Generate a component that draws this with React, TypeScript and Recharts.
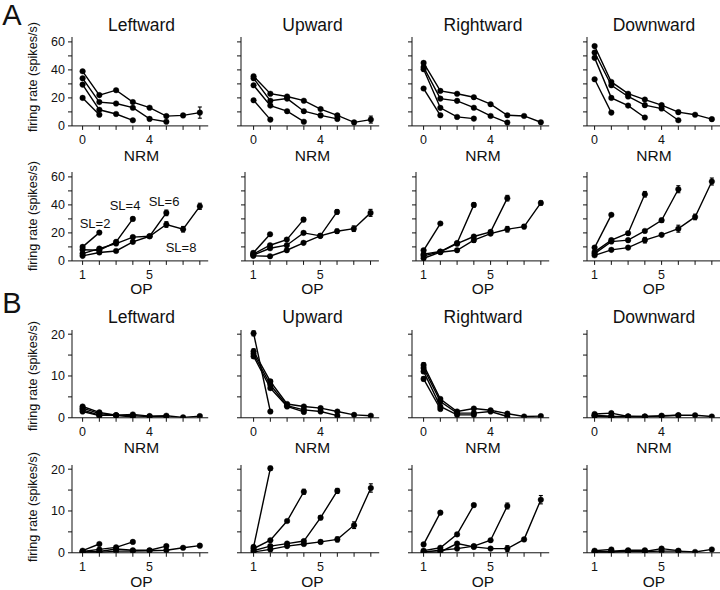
import React from 'react';
import { LineChart, Line, XAxis, YAxis, ErrorBar } from 'recharts';

const FONT = '"Liberation Sans", Arial, Helvetica, sans-serif';

// ---------- labels & ticks ----------
const DIRECTIONS = ['Leftward', 'Upward', 'Rightward', 'Downward'];
const SL_LABELS = ['SL=2', 'SL=4', 'SL=6', 'SL=8'];
const NRM_TICKS = [0, 1, 2, 3, 4, 5, 6, 7];
const NRM_TICK_LABELS = [0, 4];
const OP_TICKS = [1, 2, 3, 4, 5, 6, 7, 8];
const OP_TICK_LABELS = [1, 5];
const RATE_TICKS_A = [0, 10, 20, 30, 40, 50, 60];
const RATE_LABELS_A = [0, 20, 40, 60];
const RATE_TICKS_B = [0, 5, 10, 15, 20];
const RATE_LABELS_B = [0, 10, 20];
const Y_TITLE = 'firing rate (spikes/s)';

// ---------- data: each panel = [SL=2, SL=4, SL=6, SL=8] ----------
// A, firing rate vs NRM
const aNrmLeftward = [[20, 8], [29.5, 11.5, 8.5, 4], [34, 17, 16, 13, 5, 3], [39, 22, 25.5, 17, 13, 7, 7.5, 9.5]];
const aNrmUpward = [[18.3, 4.5], [29, 14.5, 10.5, 3], [34, 18, 19.5, 10.5, 7.5, 5], [35.5, 23, 21, 18, 12, 7.5, 2.5, 4.5]];
const aNrmRightward = [[26.7, 7.6], [40.5, 12.9, 6.4, 5.2], [42, 19.5, 17.9, 13, 7.1, 2.4], [45, 25, 23, 20.5, 15.5, 7.6, 7.1, 2.6]];
const aNrmDownward = [[33.3, 9.5], [48.6, 20, 14.5, 6], [52.4, 29, 21, 14.8, 12.4, 4], [57, 31.4, 23, 18.8, 14.8, 9.8, 8, 4.8]];
const aNrmLeftwardErr = [[0, 0], [0, 0, 0, 0], [0, 0, 0, 0, 0, 0], [0, 0, 0, 0, 0, 0, 0, 4]];
const aNrmUpwardErr = [[0, 0], [0, 0, 0, 0], [0, 0, 0, 0, 0, 0], [0, 0, 0, 0, 0, 0, 0, 2.5]];

// A, firing rate vs OP
const aOpLeftward = [[10, 20.2], [8, 7.6, 13.6, 30], [5.2, 8.8, 12.4, 17, 17.6, 34.3], [3.6, 6, 7.1, 13.6, 17.6, 26, 22.6, 39]];
const aOpUpward = [[5.7, 19], [4.8, 11.2, 15.2, 29.5], [4.2, 9, 11.2, 20, 17.9, 35], [3.6, 3.3, 7.6, 12.9, 17.9, 21.2, 23, 34.3]];
const aOpRightward = [[7.6, 26.7], [4.8, 6.7, 12.8, 40], [3.6, 6.5, 12.3, 17.4, 20.7, 44.8], [1.9, 6.2, 7.6, 14.8, 19.5, 22.6, 24.5, 41.4]];
const aOpDownward = [[9.5, 32.9], [6.4, 14.8, 19.8, 47.6], [5.2, 13.8, 14.8, 21.4, 29, 51.2], [4, 7.9, 9.5, 14.8, 18.6, 23, 31.4, 56.7]];
const aOpLeftwardErr = [[0, 0], [0, 0, 0, 1.2], [0, 0, 0, 0, 0, 2], [0, 0, 0, 0, 0, 2, 2, 2.2]];
const aOpUpwardErr = [[0, 0], [0, 0, 0, 1.5], [0, 0, 0, 0, 0, 1.5], [0, 0, 0, 0, 0, 1.5, 2, 2.5]];
const aOpRightwardErr = [[0, 0], [0, 0, 0, 1.5], [0, 0, 0, 0, 0, 2], [0, 0, 0, 1.5, 1, 2, 1.5, 1.5]];
const aOpDownwardErr = [[0, 0], [0, 0, 0, 2], [0, 0, 0, 0, 1.5, 2.5], [0, 0, 0, 2, 0, 2.5, 2, 2.5]];

// B, firing rate vs NRM
const bNrmLeftward = [[1.5, 0.5], [1.9, 0.6, 0.6, 0.2], [2.3, 1.0, 0.6, 0.5, 0.3, 0.3], [2.7, 1.3, 0.6, 0.8, 0.4, 0.5, 0.1, 0.4]];
const bNrmUpward = [[20.2, 1.5], [14.7, 7.1, 2.7, 1.4], [15.3, 7.9, 2.9, 1.9, 1.5, 0.5], [15.9, 8.7, 3.3, 2.7, 2.3, 1.5, 0.7, 0.5]];
const bNrmRightward = [[9.3, 2.1], [11.1, 2.7, 0.7, 0.7], [11.9, 3.9, 1.1, 1.1, 1.5, 0.3], [12.6, 4.5, 1.5, 2.2, 1.8, 1.0, 0.3, 0.4]];
const bNrmDownward = [[0.5, 0.3], [0.4, 0.2, 0.3, 0.2], [0.6, 0.3, 0.3, 0.3, 0.4, 0.6], [0.9, 1.1, 0.3, 0.3, 0.5, 0.6, 0.6, 0.3]];
const bNrmUpwardErr = [[0.6, 0.3], [0.5, 0.4, 0, 0], [0.6, 0.4, 0, 0, 0, 0], [0.6, 0.4, 0, 0, 0, 0, 0, 0]];
const bNrmRightwardErr = [[0.5, 0], [0.5, 0, 0, 0], [0.5, 0, 0, 0, 0, 0], [0.6, 0.4, 0, 0, 0, 0, 0, 0]];

// B, firing rate vs OP
const bOpLeftward = [[0.5, 2.1], [0.3, 0.8, 1.3, 2.6], [0.2, 0.3, 0.9, 0.6, 0.6, 1.6], [0.1, 0.1, 0.4, 0.4, 0.5, 0.6, 1.2, 1.7]];
const bOpUpward = [[1.4, 20.2], [1.0, 3.0, 7.6, 14.6], [0.5, 1.6, 2.2, 2.8, 8.4, 14.8], [0.2, 0.8, 1.6, 2.1, 2.6, 3.2, 6.6, 15.5]];
const bOpRightward = [[2.0, 9.6], [0.5, 1.2, 4.4, 11.4], [0.2, 0.6, 1.0, 1.6, 3.0, 11.2], [0.1, 0.2, 2.2, 1.4, 1.0, 1.0, 3.2, 12.7]];
const bOpDownward = [[0.5, 0.8], [0.3, 0.4, 0.6, 0.6], [0.2, 0.2, 0.4, 0.3, 1.0, 0.5], [0.1, 0.2, 0.3, 0.3, 0.4, 0.4, 0.2, 0.8]];
const bOpUpwardErr = [[0, 0.5], [0, 0, 0.3, 0.6], [0, 0, 0, 0, 0.5, 0.6], [0, 0, 0, 0, 0.4, 0.6, 0.8, 1.0]];
const bOpRightwardErr = [[0, 0], [0, 0, 0, 0.4], [0, 0, 0, 0, 0, 0.7], [0, 0, 0, 0, 0, 0.7, 0, 1.0]];

// ---------- layout ----------
const UNIT = 16.75; // px per x unit
const X0 = [82.3, 253.3, 423.3, 594.3]; // pixel x of first category per column
const COL_CENTER = [141.5, 312.5, 483, 654];
const LEFT_PAD = 40;
const TOP_PAD = 4;
const X_AXIS_H = 26;
const RIGHT_PAD = 6;

const ROWS = [
  { kind: 'NRM', zeroY: 125.7, pxPerUnit: 1.4, yMax: 63.5, yTicks: RATE_TICKS_A, yLabels: RATE_LABELS_A, axisX: [71.7, 240.7, 411.7, 586.7],
    panels: [[aNrmLeftward, aNrmLeftwardErr], [aNrmUpward, aNrmUpwardErr], [aNrmRightward, null], [aNrmDownward, null]] },
  { kind: 'OP', zeroY: 260.7, pxPerUnit: 1.4, yMax: 63.5, yTicks: RATE_TICKS_A, yLabels: RATE_LABELS_A, axisX: [71.7, 245, 415.7, 586.7],
    panels: [[aOpLeftward, aOpLeftwardErr], [aOpUpward, aOpUpwardErr], [aOpRightward, aOpRightwardErr], [aOpDownward, aOpDownwardErr]] },
  { kind: 'NRM', zeroY: 418, pxPerUnit: 4.18, yMax: 21, yTicks: RATE_TICKS_B, yLabels: RATE_LABELS_B, axisX: [71.7, 240.7, 411.7, 586.7],
    panels: [[bNrmLeftward, null], [bNrmUpward, bNrmUpwardErr], [bNrmRightward, bNrmRightwardErr], [bNrmDownward, null]] },
  { kind: 'OP', zeroY: 552.7, pxPerUnit: 4.18, yMax: 21, yTicks: RATE_TICKS_B, yLabels: RATE_LABELS_B, axisX: [71.7, 240.7, 411.7, 586.7],
    panels: [[bOpLeftward, null], [bOpUpward, bOpUpwardErr], [bOpRightward, bOpRightwardErr], [bOpDownward, null]] },
];

const TITLE_Y = [26, null, 318, null];
const XLABEL_Y = [156, 289, 448, 582];
const YLABEL_Y = [77, 216, 376, 507];

const tickStyle = { fill: '#111', fontSize: 12.5, fontFamily: FONT };

function Txt({ x, y, size, children, rotate }: any) {
  return (
    <div
      style={{
        position: 'absolute',
        left: x,
        top: y,
        transform: `translate(-50%, -50%)${rotate ? ' rotate(-90deg)' : ''}`,
        fontSize: size,
        fontFamily: FONT,
        whiteSpace: 'nowrap',
        lineHeight: 1,
        color: '#111',
      }}
    >
      {children}
    </div>
  );
}

function Panel({ row, col }: { row: number; col: number }) {
  const r = ROWS[row];
  const [values, errors] = r.panels[col] as any;
  const axisX = r.axisX[col];
  const firstX = r.kind === 'NRM' ? 0 : 1;
  const xTicks = r.kind === 'NRM' ? NRM_TICKS : OP_TICKS;
  const xLabels = r.kind === 'NRM' ? NRM_TICK_LABELS : OP_TICK_LABELS;
  const lastX = xTicks[xTicks.length - 1];
  const plotW = X0[col] + (lastX - firstX + 0.5) * UNIT - axisX;
  const xMin = firstX - (X0[col] - axisX) / UNIT;
  const xMax = lastX + 0.5;
  const plotH = r.yMax * r.pxPerUnit;
  const width = LEFT_PAD + plotW + RIGHT_PAD;
  const height = TOP_PAD + plotH + X_AXIS_H;
  const left = axisX - LEFT_PAD;
  const top = r.zeroY - plotH - TOP_PAD;
  const showY = col === 0;

  const series = values.map((ys: number[], i: number) =>
    ys.map((y: number, j: number) => ({ x: firstX + j, y, e: errors ? errors[i][j] : 0 }))
  );

  return (
    <div style={{ position: 'absolute', left, top, width, height }}>
      <LineChart width={width} height={height} margin={{ top: TOP_PAD, right: RIGHT_PAD, left: 0, bottom: 0 }}>
        <XAxis
          type="number"
          dataKey="x"
          domain={[xMin, xMax]}
          allowDataOverflow
          ticks={xTicks}
          interval={0}
          tickFormatter={(v: number) => (xLabels.includes(v) ? String(v) : '')}
          height={X_AXIS_H}
          tickSize={4}
          tickMargin={5}
          tick={tickStyle}
          axisLine={{ stroke: '#111', strokeWidth: 1 }}
          tickLine={{ stroke: '#111', strokeWidth: 1 }}
        />
        <YAxis
          type="number"
          dataKey="y"
          domain={[0, r.yMax]}
          allowDataOverflow
          ticks={r.yTicks}
          interval={0}
          tickFormatter={(v: number) => (showY && r.yLabels.includes(v) ? String(v) : '')}
          width={LEFT_PAD}
          tickSize={4}
          tickMargin={3}
          tick={tickStyle}
          axisLine={{ stroke: '#111', strokeWidth: 1 }}
          tickLine={{ stroke: '#111', strokeWidth: 1 }}
        />
        {series.map((d: any[], i: number) => (
          <Line
            key={SL_LABELS[i]}
            name={SL_LABELS[i]}
            data={d}
            dataKey="y"
            type="linear"
            stroke="#000"
            strokeWidth={1.4}
            dot={{ r: 2.8, fill: '#000', stroke: '#000', strokeWidth: 0.4 }}
            activeDot={false}
            isAnimationActive={false}
          >
            {errors ? (
              <ErrorBar dataKey="e" width={2} stroke="#000" strokeWidth={1.1} direction="y" isAnimationActive={false} />
            ) : null}
          </Line>
        ))}
      </LineChart>
    </div>
  );
}

export default function App() {
  return (
    <div style={{ position: 'absolute', left: 0, top: 0, width: 720, height: 590, background: '#fff', overflow: 'hidden' }}>
      {ROWS.map((r, ri) =>
        DIRECTIONS.map((dir, ci) => <Panel key={`${ri}-${ci}`} row={ri} col={ci} />)
      )}
      {ROWS.map((r, ri) => (
        <React.Fragment key={`lab-${ri}`}>
          {TITLE_Y[ri] !== null
            ? DIRECTIONS.map((dir, ci) => (
                <Txt key={`t-${ri}-${ci}`} x={COL_CENTER[ci]} y={TITLE_Y[ri]} size={17.5}>
                  {dir}
                </Txt>
              ))
            : null}
          {DIRECTIONS.map((dir, ci) => (
            <Txt key={`x-${ri}-${ci}`} x={COL_CENTER[ci]} y={XLABEL_Y[ri]} size={15.5}>
              {r.kind}
            </Txt>
          ))}
          <Txt x={33} y={YLABEL_Y[ri]} size={12.6} rotate>
            {Y_TITLE}
          </Txt>
        </React.Fragment>
      ))}
      <Txt x={95} y={222.5} size={13}>{SL_LABELS[0]}</Txt>
      <Txt x={125} y={205} size={13}>{SL_LABELS[1]}</Txt>
      <Txt x={164} y={200.5} size={13}>{SL_LABELS[2]}</Txt>
      <Txt x={181} y={247} size={13}>{SL_LABELS[3]}</Txt>
      <Txt x={12} y={15} size={29}>A</Txt>
      <Txt x={12} y={303} size={29}>B</Txt>
    </div>
  );
}
